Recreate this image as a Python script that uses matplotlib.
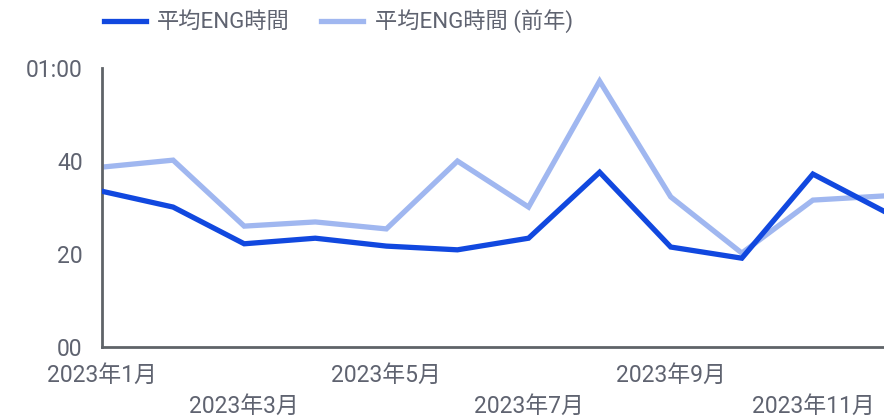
import numpy as np
import matplotlib.pyplot as plt

plt.rcParams['font.family'] = ['Roboto', 'Noto Sans CJK JP', 'DejaVu Sans']

months = ['2023年%d月' % m for m in range(1, 13)]
eng_time = [33.5, 30.1, 22.2, 23.4, 21.7, 20.9, 23.4, 37.6, 21.5, 19.1, 37.2, 29.2]
eng_time_prev = [38.7, 40.2, 26.0, 26.9, 25.4, 40.0, 30.1, 57.2, 32.3, 20.2, 31.6, 32.5]
y_ticks = [0, 20, 40, 60]
y_labels = ['00', '20', '40', '01:00']

dark = '#1148df'
light = '#a0b7f0'
axis_grey = '#5f6368'
text_grey = '#5f6370'

fig = plt.figure(figsize=(8.84, 4.18), dpi=100)
ax = fig.add_axes([0.1154, 0.170, 0.8846, 0.667])

x = np.arange(len(months))
ax.plot(x, eng_time, color=dark, lw=3.8, label='平均ENG時間', zorder=3, solid_joinstyle='miter')
ax.plot(x, eng_time_prev, color=light, lw=3.8, label='平均ENG時間 (前年)', zorder=2, solid_joinstyle='miter')

ax.set_xlim(0, 11)
ax.set_ylim(0, 60)
ax.set_yticks(y_ticks)
ax.set_yticklabels(y_labels)

tick_idx = list(range(0, 12, 2))
ax.set_xticks(tick_idx)
ax.set_xticklabels([months[i] if k % 2 == 0 else '\n' + months[i] for k, i in enumerate(tick_idx)],
                   linespacing=1.45)

for s in ['top', 'right']:
    ax.spines[s].set_visible(False)
for s in ['left', 'bottom']:
    ax.spines[s].set_color(axis_grey)
    ax.spines[s].set_linewidth(2)
ax.tick_params(axis='both', length=0, labelsize=16.5, colors=text_grey)
ax.tick_params(axis='y', pad=14)
ax.tick_params(axis='x', pad=12)
for lab in ax.get_xticklabels():
    lab.set_clip_on(False)

fig.legend(loc='upper left', bbox_to_anchor=(0.095, 1.025), ncol=2, frameon=False,
           fontsize=16, labelcolor=text_grey, handlelength=1.9, handletextpad=0.5,
           columnspacing=1.4)

fig.savefig('out.png', dpi=100)
